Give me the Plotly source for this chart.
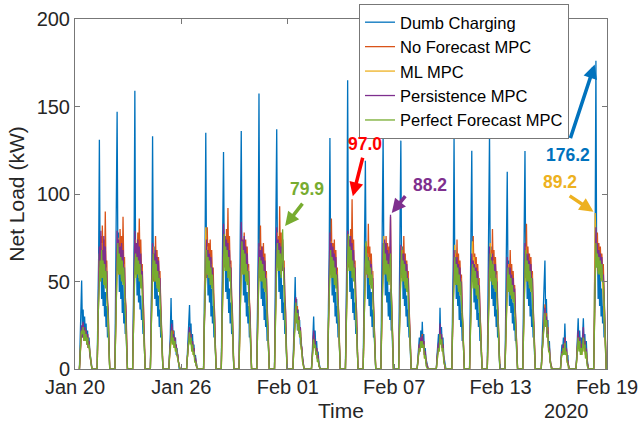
from datetime import datetime, timedelta
import plotly.graph_objects as go

# ---------------- data ----------------
START = datetime(2020, 1, 20)
# hours of the day at which each daily profile is sampled
HOURS = [6, 7, 8, 9, 10, 11, 12, 13, 14, 15, 16, 17, 18, 19, 20, 21, 22, 23]

# one row per day (Jan 20 ... Feb 18), values in kW at HOURS
DUMB = [
    "0 18 28 50.5 24 34 20 30 18 26 16 22 12 18 10 8 4 0",
    "0 36 64 131 60 74 40 62 36 54 30 44 24 36 18 22 8 0",
    "0 40 68 147 64 78 44 66 40 56 32 48 26 38 20 24 10 0",
    "0 38 72 159 58 72 42 64 38 52 34 42 28 34 20 22 8 0",
    "0 34 60 133 56 70 40 60 36 50 30 42 24 34 18 20 8 0",
    "0 0 10 20 40.5 18 28 14 22 12 18 8 12 6 4 0 0 0",
    "0 0 8 16 22 36.6 18 26 12 20 10 14 6 8 4 0 0 0",
    "0 38 66 135 60 74 42 62 38 54 30 46 26 36 18 22 8 0",
    "0 36 68 124 64 76 44 64 40 56 32 46 26 38 20 22 10 0",
    "0 38 64 136 60 72 42 62 38 52 30 44 26 36 18 22 8 0",
    "0 40 70 157.5 58 72 40 60 36 54 28 44 24 34 16 20 8 0",
    "0 38 68 137 62 76 44 64 40 56 32 48 28 38 20 24 10 0",
    "0 0 18 30 52.5 28 40 22 34 20 28 14 18 10 6 0 0 0",
    "0 0 0 8 16 30 14 22 10 16 8 10 4 0 0 0 0 0",
    "0 36 64 132 58 72 42 62 38 54 30 44 26 36 18 22 8 0",
    "0 42 72 165 64 76 44 66 40 56 32 46 28 38 20 24 10 0",
    "0 34 60 119 56 70 40 60 36 52 30 44 24 34 18 20 8 0",
    "0 36 66 134 60 72 42 62 38 52 30 44 28 46 22 24 10 0",
    "0 36 62 130.5 56 70 40 60 36 50 30 42 24 34 18 20 8 0",
    "0 0 6 12 18 10 22 12 27 14 20 8 12 6 4 0 0 0",
    "0 0 0 0 8 14 20 12 35 16 24 12 18 8 4 0 0 0",
    "0 36 64 132.7 56 68 40 58 36 50 28 42 24 32 16 20 8 0",
    "0 34 62 124.7 54 68 38 58 34 50 28 42 24 32 16 20 8 0",
    "0 36 64 134.3 56 70 40 60 36 52 30 44 24 34 18 20 8 0",
    "0 32 56 112.7 50 62 36 54 32 46 26 38 22 30 16 18 6 0",
    "0 34 62 124.6 56 70 40 60 36 52 30 44 24 34 18 20 8 0",
    "0 0 12 22 32 44 62 30 40 20 28 12 16 6 2 0 0 0",
    "0 0 0 0 8 14 10 18 12 26 12 16 6 8 0 0 0 0",
    "0 8 16 29 14 22 12 18 10 20 29 14 20 10 16 6 2 0",
    "0 38 80 176.2 58 72 40 62 36 54 30 46 26 36 18 22 8 0",
]

NO_FORECAST = [
    "0 10 16 22 18 26 16 24 18 22 14 20 12 16 10 6 2 0",
    "0 22 46 62 50 76 52 82 58 74 54 90 56 62 40 34 16 0",
    "0 24 50 64 56 72 54 80 60 76 52 87 58 64 42 36 18 0",
    "0 22 48 62 54 70 56 78 60 86 58 74 54 60 42 34 16 0",
    "0 20 44 58 50 66 50 76 54 68 50 64 50 56 38 30 14 0",
    "0 0 8 14 20 24 16 22 14 18 12 14 8 8 4 0 0 0",
    "0 0 6 12 16 22 18 20 12 16 10 12 6 6 2 0 0 0",
    "0 22 48 60 52 81 54 72 56 74 50 68 52 58 40 32 14 0",
    "0 24 52 66 58 74 56 80 60 92 58 76 56 62 42 34 16 0",
    "0 22 48 62 56 72 54 78 58 74 52 70 54 60 40 32 14 0",
    "0 22 46 60 52 82 52 70 54 72 50 66 50 56 38 30 14 0",
    "0 24 52 64 58 76 56 93 60 78 56 74 58 62 42 34 16 0",
    "0 0 12 24 32 40 30 36 24 30 20 24 14 12 6 0 0 0",
    "0 0 0 6 12 20 14 16 10 12 6 8 2 0 0 0 0 0",
    "0 22 48 62 54 86 54 72 56 74 50 68 52 58 40 32 14 0",
    "0 24 52 66 58 74 56 80 60 97.0 58 74 56 62 42 34 16 0",
    "0 22 46 60 54 70 52 83 56 70 50 66 52 56 38 30 14 0",
    "0 22 48 62 54 72 56 76 58 72 54 70 58 87 46 36 18 0",
    "0 20 46 58 52 68 52 76 54 66 50 62 50 56 38 30 14 0",
    "0 0 4 10 14 12 18 14 20 14 16 8 10 4 2 0 0 0",
    "0 0 0 0 6 10 14 12 22 16 20 12 14 6 2 0 0 0",
    "0 20 44 56 50 66 50 74 52 66 48 62 48 54 36 28 12 0",
    "0 20 44 56 50 76 50 66 52 64 48 60 48 52 36 28 12 0",
    "0 22 46 58 52 68 52 80 54 68 50 64 50 56 38 30 14 0",
    "0 18 40 52 46 60 46 68 48 60 44 56 44 48 34 26 12 0",
    "0 22 46 58 52 83 52 70 54 66 50 64 50 56 38 30 14 0",
    "0 0 8 16 24 30 37 28 32 20 24 12 12 6 2 0 0 0",
    "0 0 0 0 6 10 8 14 10 18 10 12 6 4 0 0 0 0",
    "0 6 12 20 12 18 10 14 10 16 20 12 16 8 12 4 0 0",
    "0 28 60 70 62 78 56 72 58 70 54 66 56 60 44 34 16 0",
]

ML = [
    "0 10 18 24 20 22 18 20 16 20 14 18 12 14 8 6 2 0",
    "0 26 50 66 56 60 72 54 66 50 62 48 58 46 40 30 14 0",
    "0 28 52 62 75 58 70 56 68 52 64 50 60 46 40 30 14 0",
    "0 26 50 60 74 56 68 58 64 52 66 48 58 44 40 28 14 0",
    "0 24 46 58 70 54 64 52 62 48 58 46 54 42 36 26 12 0",
    "0 0 6 12 18 20 14 18 12 16 10 12 8 6 4 0 0 0",
    "0 0 6 10 14 20 16 18 10 14 8 10 6 4 2 0 0 0",
    "0 26 50 81 58 70 54 66 58 62 52 60 50 48 38 28 12 0",
    "0 28 54 64 77 60 72 58 70 56 66 52 60 48 40 30 14 0",
    "0 26 50 60 75 58 70 56 68 54 62 50 58 46 38 28 12 0",
    "0 24 48 58 70 54 66 52 62 50 58 46 54 42 36 26 12 0",
    "0 28 54 62 78 58 72 58 68 54 66 56 60 48 40 30 14 0",
    "0 0 10 22 30 36 28 32 22 28 18 22 12 10 4 0 0 0",
    "0 0 0 5 10 18 12 14 8 10 6 6 2 0 0 0 0 0",
    "0 26 50 60 73 56 68 56 64 52 60 48 56 44 38 28 12 0",
    "0 28 54 64 77 60 72 58 70 56 64 52 60 48 40 30 14 0",
    "0 26 48 58 72 56 66 54 64 50 60 46 56 42 36 26 12 0",
    "0 26 50 60 76 58 68 56 66 52 62 50 60 70 44 32 16 0",
    "0 24 46 56 70 54 64 52 62 48 58 46 54 42 36 26 12 0",
    "0 0 4 8 12 10 16 12 17 12 14 6 8 4 2 0 0 0",
    "0 0 0 0 4 8 12 10 20 14 17 10 12 6 2 0 0 0",
    "0 24 46 56 71 52 64 50 60 46 56 44 52 40 34 24 10 0",
    "0 24 46 56 73 52 64 50 60 46 56 44 52 40 34 24 10 0",
    "0 24 46 56 72 54 66 52 62 48 58 46 54 42 36 26 12 0",
    "0 20 40 50 60 46 56 44 54 42 50 40 46 36 30 22 10 0",
    "0 24 46 56 70 54 66 52 62 48 58 46 54 42 36 26 12 0",
    "0 0 8 14 22 28 33 26 28 18 22 10 10 4 2 0 0 0",
    "0 0 0 0 5 9 8 12 9 16 8 10 4 4 0 0 0 0",
    "0 5 10 18 12 16 10 12 8 14 18 10 14 6 10 4 0 0",
    "0 36 89.2 72 64 70 58 66 56 62 52 60 50 48 40 30 14 0",
]

PERSISTENCE = [
    "0 12 18 25 18 27 18 24 16 22 14 20 12 16 8 6 2 0",
    "0 24 48 70 58 79 54 68 60 76 50 70 52 56 38 32 14 0",
    "0 26 50 79 60 74 56 70 62 72 54 68 54 58 40 32 14 0",
    "0 24 50 79 58 72 58 74 60 70 56 66 52 56 40 30 14 0",
    "0 22 46 72 54 66 52 68 56 64 50 62 50 52 36 28 12 0",
    "0 0 8 16 22 26 16 20 14 18 12 14 8 8 4 0 0 0",
    "0 0 6 12 18 24 16 20 12 16 10 12 6 6 2 0 0 0",
    "0 24 48 64 74 58 68 56 66 52 64 50 58 46 38 28 12 0",
    "0 26 50 83 62 76 58 74 62 72 56 68 54 58 40 32 14 0",
    "0 24 48 84 60 74 56 76 60 70 54 66 52 56 38 30 12 0",
    "0 22 46 72 56 68 52 70 56 64 50 62 50 52 36 28 12 0",
    "0 26 50 81 60 74 58 72 62 70 56 74 56 58 40 32 14 0",
    "0 0 12 26 34 41 28 34 24 30 20 24 14 12 6 0 0 0",
    "0 0 0 6 14 22 14 17 10 12 6 8 2 0 0 0 0 0",
    "0 24 48 78 58 72 54 70 58 66 52 64 52 54 38 30 12 0",
    "0 26 50 79 62 74 58 76 60 72 56 68 54 58 40 32 14 0",
    "0 24 46 70 56 66 52 64 56 62 50 60 50 52 36 28 12 0",
    "0 24 48 72 60 74 56 72 58 68 54 66 56 88.2 46 34 16 0",
    "0 22 44 71 54 66 52 66 54 62 50 60 50 52 36 28 12 0",
    "0 0 4 10 14 12 18 12 19 14 16 8 10 4 2 0 0 0",
    "0 0 0 0 6 10 15 12 26 16 20 12 14 6 2 0 0 0",
    "0 22 44 68 52 64 50 64 52 60 48 58 48 50 34 26 10 0",
    "0 22 42 66 50 62 48 60 50 58 46 56 46 48 34 26 10 0",
    "0 22 44 70 54 64 50 66 54 60 48 60 48 50 36 28 12 0",
    "0 20 40 64 48 58 44 58 48 54 42 52 42 46 32 24 10 0",
    "0 22 44 72 54 66 50 66 54 62 48 60 48 52 36 28 12 0",
    "0 0 8 16 24 28 35 26 30 18 22 12 12 4 2 0 0 0",
    "0 0 0 0 6 10 8 14 10 18 10 12 6 4 0 0 0 0",
    "0 6 12 22 12 18 10 14 10 16 24 12 16 8 12 4 0 0",
    "0 32 74 81 60 72 56 68 58 66 54 64 52 54 42 32 14 0",
]

PERFECT = [
    "0 12 18 22 20 24 16 22 16 20 14 18 12 14 8 6 2 0",
    "0 26 44 58 62 50 68 52 62 48 60 46 56 42 36 28 12 0",
    "0 28 48 60 72 54 66 54 64 50 62 48 58 44 38 28 12 0",
    "0 26 48 58 66 52 64 54 62 50 60 46 54 42 36 28 12 0",
    "0 24 44 56 66 50 62 50 60 46 56 44 52 40 34 26 10 0",
    "0 0 8 14 20 22 14 18 12 16 10 12 8 6 2 0 0 0",
    "0 0 6 10 16 21 14 18 10 14 8 10 4 4 2 0 0 0",
    "0 26 46 58 68 54 64 52 62 48 58 46 54 42 34 26 10 0",
    "0 28 50 62 77 56 70 56 68 52 64 50 58 44 38 28 12 0",
    "0 26 46 58 73 54 68 54 66 50 60 48 56 42 36 26 10 0",
    "0 24 44 56 64 50 62 50 60 46 56 44 52 40 34 26 10 0",
    "0 28 48 60 72 56 68 56 66 52 62 79.9 58 46 38 28 12 0",
    "0 0 10 22 30 38 26 32 22 28 18 22 12 10 4 0 0 0",
    "0 0 0 5 10 17 12 14 8 10 4 6 2 0 0 0 0 0",
    "0 26 46 58 68 52 64 52 62 48 58 46 54 40 36 26 10 0",
    "0 28 48 62 77 56 70 56 68 52 62 50 58 44 38 28 12 0",
    "0 26 46 60 73 54 64 52 62 48 58 46 54 40 34 26 10 0",
    "0 26 46 58 72 54 66 54 62 50 60 48 56 66 42 30 14 0",
    "0 24 44 56 68 50 62 50 60 46 56 44 52 40 34 26 10 0",
    "0 0 4 8 12 10 16 12 16 12 14 6 8 2 0 0 0 0",
    "0 0 0 0 4 8 12 10 20 14 17 10 12 4 2 0 0 0",
    "0 24 42 54 64 48 60 48 58 44 54 42 50 38 32 24 10 0",
    "0 22 40 52 60 46 58 46 56 42 52 40 48 36 30 22 8 0",
    "0 24 42 54 66 50 62 48 60 46 56 44 52 40 34 24 10 0",
    "0 20 38 48 58 44 54 42 52 40 48 38 44 34 28 22 8 0",
    "0 24 44 56 68 50 62 50 60 46 56 44 52 40 34 26 10 0",
    "0 0 8 14 22 26 32 24 28 18 20 10 10 4 0 0 0 0",
    "0 0 0 0 5 9 8 12 8 15 8 10 4 2 0 0 0 0",
    "0 5 10 18 10 16 8 12 8 14 18 10 14 6 10 2 0 0",
    "0 30 68 72 58 66 54 64 54 62 50 60 50 50 40 30 12 0",
]

SERIES_NAMES = ["Dumb Charging", "No Forecast MPC", "ML MPC",
                "Persistence MPC", "Perfect Forecast MPC"]
SERIES_ROWS = [DUMB, NO_FORECAST, ML, PERSISTENCE, PERFECT]
COLORS = ["#0072BD", "#D95319", "#EDB120", "#7E2F8E", "#77AC30"]

TICK_DATES = ["2020-01-20", "2020-01-26", "2020-02-01",
              "2020-02-07", "2020-02-13", "2020-02-19"]
Y_TICKS = [0, 50, 100, 150, 200]

# peak call-outs: (label, series index, day index, hour of day)
CALLOUTS = [
    ("79.9", 4, 11, 17),
    ("97.0", 1, 15, 15),
    ("88.2", 3, 17, 19),
    ("176.2", 0, 29, 9),
    ("89.2", 2, 29, 8),
]
CALLOUT_COLORS = ["#77AC30", "#FF0000", "#7E2F8E", "#0072BD", "#EDB120"]


def expand(rows):
    xs, ys = [], []
    for d, row in enumerate(rows):
        for h, v in zip(HOURS, row.split()):
            xs.append(START + timedelta(days=d, hours=h))
            ys.append(float(v))
    return xs, ys


FONT = "Liberation Sans, Arial, Helvetica, sans-serif"
fig = go.Figure()
for name, rows, col in zip(SERIES_NAMES, SERIES_ROWS, COLORS):
    xs, ys = expand(rows)
    fig.add_trace(go.Scatter(x=xs, y=ys, mode="lines", name=name,
                             line=dict(color=col, width=1.3)))

# arrows + labels (pixel offsets relative to the annotated peak)
arrow_geom = {  # ax, ay, standoff, label xshift, label yshift
    "79.9": (21, -27, 4, 24, 40),
    "97.0": (11, -43, 3, 13, 55),
    "88.2": (16, -20, 2, 39, 30),
    "176.2": (-26, 79, 4, -28, -94),
    "89.2": (-27, -18, 2, -35, 31),
}
for (lab, si, di, hr), col in zip(CALLOUTS, CALLOUT_COLORS):
    px = START + timedelta(days=di, hours=hr)
    py = float(SERIES_ROWS[si][di].split()[HOURS.index(hr)])
    ax, ay, so, xs_, ys_ = arrow_geom[lab]
    fig.add_annotation(x=px, y=py, xref="x", yref="y", text="",
                       showarrow=True, arrowhead=2, arrowsize=0.8,
                       arrowwidth=3.5, arrowcolor=col, ax=ax, ay=ay,
                       standoff=so)
    fig.add_annotation(x=px, y=py, xref="x", yref="y",
                       text="<b>" + lab + "</b>", showarrow=False,
                       xshift=xs_, yshift=ys_,
                       font=dict(family=FONT, size=17.5, color=col))

fig.add_annotation(x=0.923, y=-0.12, xref="paper", yref="paper",
                   text="2020", showarrow=False, xanchor="center",
                   yanchor="middle",
                   font=dict(family=FONT, size=20, color="#262626"))

axis_common = dict(showline=True, linecolor="#777777", linewidth=1,
                   mirror="ticks", ticks="inside", ticklen=5,
                   tickcolor="#777777", showgrid=False, zeroline=False,
                   tickfont=dict(family=FONT, size=20, color="#262626"))

fig.update_xaxes(range=[START, START + timedelta(days=30)],
                 tickvals=TICK_DATES, tickformat="%b %d",
                 title=dict(text="Time", standoff=6,
                            font=dict(family=FONT, size=21, color="#262626")),
                 **axis_common)
fig.update_yaxes(range=[0, 200], tickvals=Y_TICKS,
                 title=dict(text="Net Load (kW)", standoff=6,
                            font=dict(family=FONT, size=21, color="#262626")),
                 **axis_common)

fig.update_layout(
    width=639, height=429,
    margin=dict(l=75, r=32, t=19, b=60, autoexpand=False),
    plot_bgcolor="white", paper_bgcolor="white",
    font=dict(family=FONT, color="#262626"),
    showlegend=True,
    legend=dict(x=0.9286, y=1.043, xanchor="right", yanchor="top",
                bgcolor="white", bordercolor="#777777", borderwidth=1,
                font=dict(family=FONT, size=16.5, color="black"),
                itemwidth=30, tracegroupgap=0),
)

fig.write_html("out.html")
